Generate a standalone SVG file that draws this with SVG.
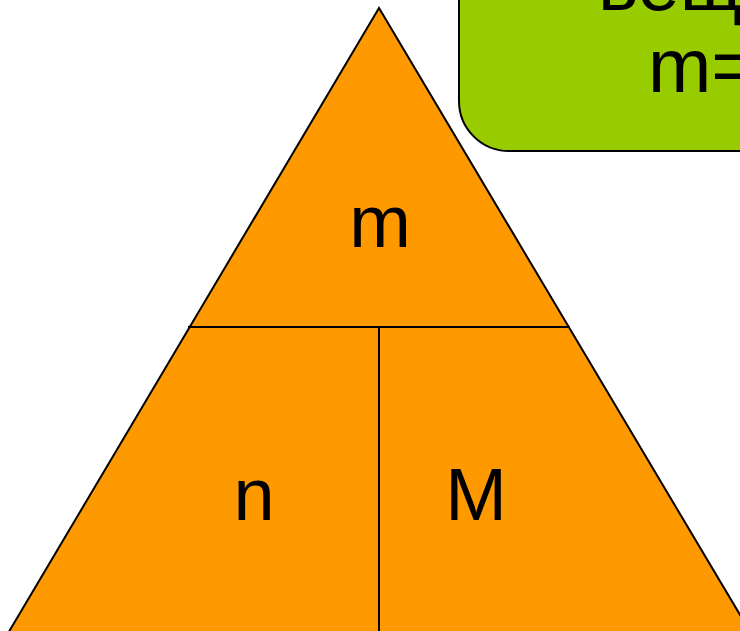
<svg xmlns="http://www.w3.org/2000/svg" width="740" height="631" viewBox="0 0 740 631">
<style>
.t{font-family:"Liberation Sans",Arial,sans-serif;font-size:74px;fill:#000}
.ln{stroke:#000;stroke-width:2;fill:none}
</style>
<rect width="740" height="631" fill="#fff"/>
<g id="triangle">
<polygon points="379,8 4,640 755,640" fill="#ff9900" stroke="#000" stroke-width="2"/>
</g>
<g id="connectors">
<line class="ln" x1="188" y1="327" x2="570" y2="327"/>
<line class="ln" x1="379" y1="327" x2="379" y2="640"/>
</g>
<g id="node-m"><text class="t" x="380" y="247" text-anchor="middle">m</text></g>
<g id="node-n"><text class="t" x="254" y="520" text-anchor="middle">n</text></g>
<g id="node-M"><text class="t" x="476" y="520" text-anchor="middle">M</text></g>
<g id="formula">
<rect x="459" y="-80" width="400" height="231" rx="50" fill="#99cc00" stroke="#000" stroke-width="2"/>
<text class="t" x="598" y="10" style="font-size:76px">вещества</text>
<text class="t" x="648" y="92" style="font-size:76px">m=n·M</text>
</g>
</svg>
